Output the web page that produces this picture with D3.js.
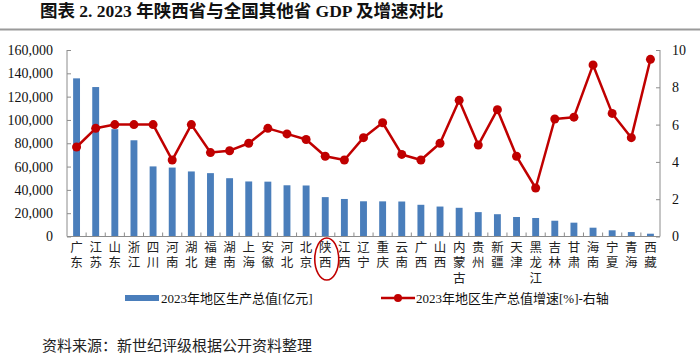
<!DOCTYPE html>
<html><head><meta charset="utf-8">
<script src="https://cdn.jsdelivr.net/npm/d3@7"></script>
<style>
html,body{margin:0;padding:0;background:#fff;}
svg{display:block;}
</style></head>
<body><svg id="c" width="700" height="355"></svg>
<script>
const provinces = ["广东","江苏","山东","浙江","四川","河南","湖北","福建","湖南","上海","安徽","河北","北京","陕西","江西","辽宁","重庆","云南","广西","山西","内蒙古","贵州","新疆","天津","黑龙江","吉林","甘肃","海南","宁夏","青海","西藏"];
const gdp = [135673,128222,92069,82553,60133,59132,55804,54355,50013,47219,47051,43944,43761,33786,32200,30209,30146,30021,27202,25698,24627,20913,19126,16737,15884,13531,11864,7551,5315,3799,2393];
const growth = [4.8,5.8,6.0,6.0,6.0,4.1,6.0,4.5,4.6,5.0,5.8,5.5,5.2,4.3,4.1,5.3,6.1,4.4,4.1,5.0,7.3,4.9,6.8,4.3,2.6,6.3,6.4,9.2,6.6,5.3,9.5];
const leftTicks = [0,20000,40000,60000,80000,100000,120000,140000,160000];
const rightTicks = [0,2,4,6,8,10];
const title = "图表 2. 2023 年陕西省与全国其他省 GDP 及增速对比";
const legendBar = "2023年地区生产总值[亿元]";
const legendLine = "2023年地区生产总值增速[%]-右轴";
const source = "资料来源：新世纪评级根据公开资料整理";
const highlight = "陕西";

const svg = d3.select("#c");
const serif = "'Liberation Serif','Times New Roman','Noto Sans CJK SC',serif";
const L = 67, R = 660, T = 50, B = 236.5;
const axisColor = "#8c8c8c";
const barColor = "#4a7ebb";
const lineColor = "#c00000";

// title
svg.append("text").attr("x", 40).attr("y", 17)
  .attr("font-family", serif).attr("font-weight", "bold").attr("font-size", 17.5)
  .attr("fill", "#111").text(title);
svg.append("line").attr("x1", 0).attr("x2", 700).attr("y1", 29.5).attr("y2", 29.5)
  .attr("stroke", "#9a9a9a").attr("stroke-width", 2);

const x = d3.scaleBand().domain(provinces).range([L, R]).paddingInner(0).paddingOuter(0);
const yL = d3.scaleLinear().domain([0, 160000]).range([B, T]);
const yR = d3.scaleLinear().domain([0, 10]).range([B, T]);

// bars
const bw = x.bandwidth() * 0.36;
svg.append("g").selectAll("rect").data(provinces).join("rect")
  .attr("x", (d) => x(d) + x.bandwidth()/2 - bw/2)
  .attr("width", bw)
  .attr("y", (d, i) => yL(gdp[i]))
  .attr("height", (d, i) => B - yL(gdp[i]))
  .attr("fill", barColor);

// left axis
const gl = svg.append("g").attr("transform", `translate(${L},0)`)
  .call(d3.axisLeft(yL).tickValues(leftTicks).tickSize(-4).tickPadding(14).tickFormat(d3.format(",")));
gl.selectAll("path,line").attr("stroke", axisColor);
gl.select(".domain").attr("d", `M-0,${T}V${B}`);
gl.selectAll("text").attr("font-family", serif).attr("font-size", 14).attr("fill", "#111");

// right axis
const gr = svg.append("g").attr("transform", `translate(${R},0)`)
  .call(d3.axisRight(yR).tickValues(rightTicks).tickSize(-4).tickPadding(12));
gr.selectAll("path,line").attr("stroke", axisColor);
gr.select(".domain").attr("d", `M0,${T}V${B}`);
gr.selectAll("text").attr("font-family", serif).attr("font-size", 14).attr("fill", "#111");

// bottom axis
const gb = svg.append("g").attr("transform", `translate(0,${B})`);
gb.append("line").attr("x1", L).attr("x2", R).attr("y1", 0).attr("y2", 0).attr("stroke", axisColor);
gb.selectAll("line.tk").data(provinces.slice(1)).join("line").attr("class","tk")
  .attr("x1", (d) => x(d)).attr("x2", (d) => x(d)).attr("y1", 0).attr("y2", -4).attr("stroke", axisColor);
gb.selectAll("text.cat").data(provinces).join("text").attr("class","cat")
  .attr("x", (d) => x(d) + x.bandwidth()/2).attr("y", 4)
  .attr("writing-mode", "vertical-rl")
  .style("writing-mode", "vertical-rl")
  .attr("letter-spacing", 3)
  .attr("font-family", "'Noto Sans CJK SC',sans-serif")
  .attr("font-size", 12.5).attr("fill", "#222").text((d) => d);

// highlight ellipse
svg.append("ellipse").attr("cx", x(highlight) + x.bandwidth()/2 + 1.5).attr("cy", B + 22.5)
  .attr("rx", 12).attr("ry", 21).attr("fill", "none").attr("stroke", lineColor).attr("stroke-width", 1.6);

// line
const line = d3.line().x((d, i) => x(provinces[i]) + x.bandwidth()/2).y((d) => yR(d));
svg.append("path").datum(growth).attr("d", line).attr("fill", "none")
  .attr("stroke", lineColor).attr("stroke-width", 2.5).attr("stroke-linejoin", "round");
svg.append("g").selectAll("circle").data(growth).join("circle")
  .attr("cx", (d, i) => x(provinces[i]) + x.bandwidth()/2).attr("cy", (d) => yR(d))
  .attr("r", 4.5).attr("fill", lineColor);

// legend
const ly = 298;
svg.append("rect").attr("x", 125).attr("y", ly - 3).attr("width", 34).attr("height", 6).attr("fill", barColor);
svg.append("text").attr("x", 161).attr("y", ly + 5).attr("font-family", serif).attr("font-size", 13)
  .attr("fill", "#111").text(legendBar);
svg.append("line").attr("x1", 381).attr("x2", 415).attr("y1", ly).attr("y2", ly).attr("stroke", lineColor).attr("stroke-width", 2.5);
svg.append("circle").attr("cx", 398).attr("cy", ly).attr("r", 4).attr("fill", lineColor);
svg.append("text").attr("x", 416).attr("y", ly + 5).attr("font-family", serif).attr("font-size", 13)
  .attr("fill", "#111").text(legendLine);

// source
svg.append("text").attr("x", 42).attr("y", 351).attr("font-family", "'Noto Sans CJK SC',sans-serif")
  .attr("font-size", 15).attr("fill", "#222").text(source);
</script></body></html>
